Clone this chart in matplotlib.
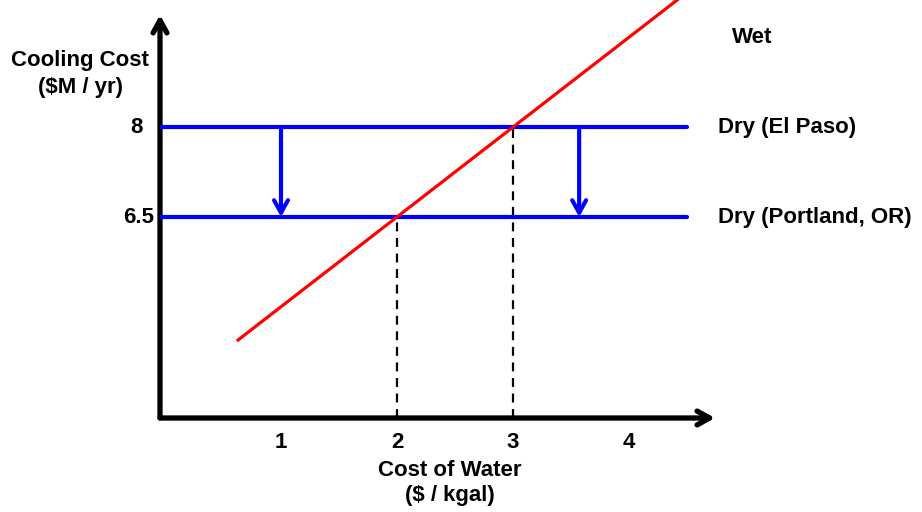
import matplotlib.pyplot as plt

plt.rcParams['font.family'] = ['Liberation Sans', 'DejaVu Sans']
plt.rcParams['font.weight'] = 'bold'

# wet cooling cost rises with the price of water
wet_x = [0.63, 4.47]
wet_y = [4.45, 10.2]

# dry cooling cost is flat, depends on site
dry_levels = [8.0, 6.5]
dry_names = ['Dry (El Paso)', 'Dry (Portland, OR)']
dry_x = [-0.04, 4.5]

# break-even water prices where wet meets dry
breakeven_x = [2, 3]
breakeven_y = [6.5, 8.0]

# arrows showing the drop from El Paso to Portland
drop_x = [1.0, 3.57]

xticks = [1, 2, 3, 4]
yticks = [8, 6.5]
ytick_labels = ['8', '6.5']
ytick_offs = [-0.031, -0.011]

fig = plt.figure(figsize=(9.22, 5.12), dpi=100)
ax = fig.add_axes([160/922, 94/512, 555/922, 403/512])
ax.set_xlim(-0.043, 4.741)
ax.set_ylim(3.15, 9.867)

for s in ax.spines.values():
    s.set_visible(False)

# axes with arrow heads
arrow_kw = dict(arrowstyle='->,head_length=0.9,head_width=0.5', lw=3.8, color='black',
                shrinkA=0, shrinkB=0)
ax.annotate('', xy=(1, 0), xytext=(0, 0), xycoords='axes fraction', arrowprops=arrow_kw)
ax.annotate('', xy=(0, 1), xytext=(0, 0), xycoords='axes fraction', arrowprops=arrow_kw)

for lvl in dry_levels:
    ax.plot(dry_x, [lvl, lvl], color='#0000ff', lw=3, solid_capstyle='round', zorder=3)

for bx, by in zip(breakeven_x, breakeven_y):
    ax.plot([bx, bx], [3.15, by], color='black', lw=1.6, ls=(0, (4, 3)), zorder=2)

ax.plot(wet_x, wet_y, color='#ff0000', lw=2.3, zorder=4, clip_on=False)

for dx in drop_x:
    ax.annotate('', xy=(dx, dry_levels[1]), xytext=(dx, dry_levels[0]),
                arrowprops=dict(arrowstyle='->,head_length=0.9,head_width=0.5', lw=3,
                                color='#0000ff', shrinkA=0, shrinkB=0))

ax.text(4.89, 9.5, 'Wet', fontsize=16, fontweight='bold', va='center', ha='left', clip_on=False)
for lvl, name in zip(dry_levels, dry_names):
    ax.text(4.77, lvl, name, fontsize=16, fontweight='bold', va='center', ha='left', clip_on=False)

ax.set_xticks(xticks)
ax.set_xticklabels([str(t) for t in xticks], fontsize=16, fontweight='bold')
ax.set_yticks([])
ax.tick_params(length=0)
ax.tick_params(axis='x', pad=10)

for yv, lab, off in zip(yticks, ytick_labels, ytick_offs):
    ax.text(off, yv, lab, transform=ax.get_yaxis_transform(), fontsize=16, fontweight='bold',
            ha='right', va='center')

fig.text(80/922, 1 - 74/512, 'Cooling Cost\n($M / yr)', fontsize=16, fontweight='bold',
         ha='center', va='center', linespacing=1.35)
fig.text(450/922, 1 - 483/512, 'Cost of Water\n($ / kgal)', fontsize=16, fontweight='bold',
         ha='center', va='center', linespacing=1.3)

fig.savefig('out.png', dpi=100)
